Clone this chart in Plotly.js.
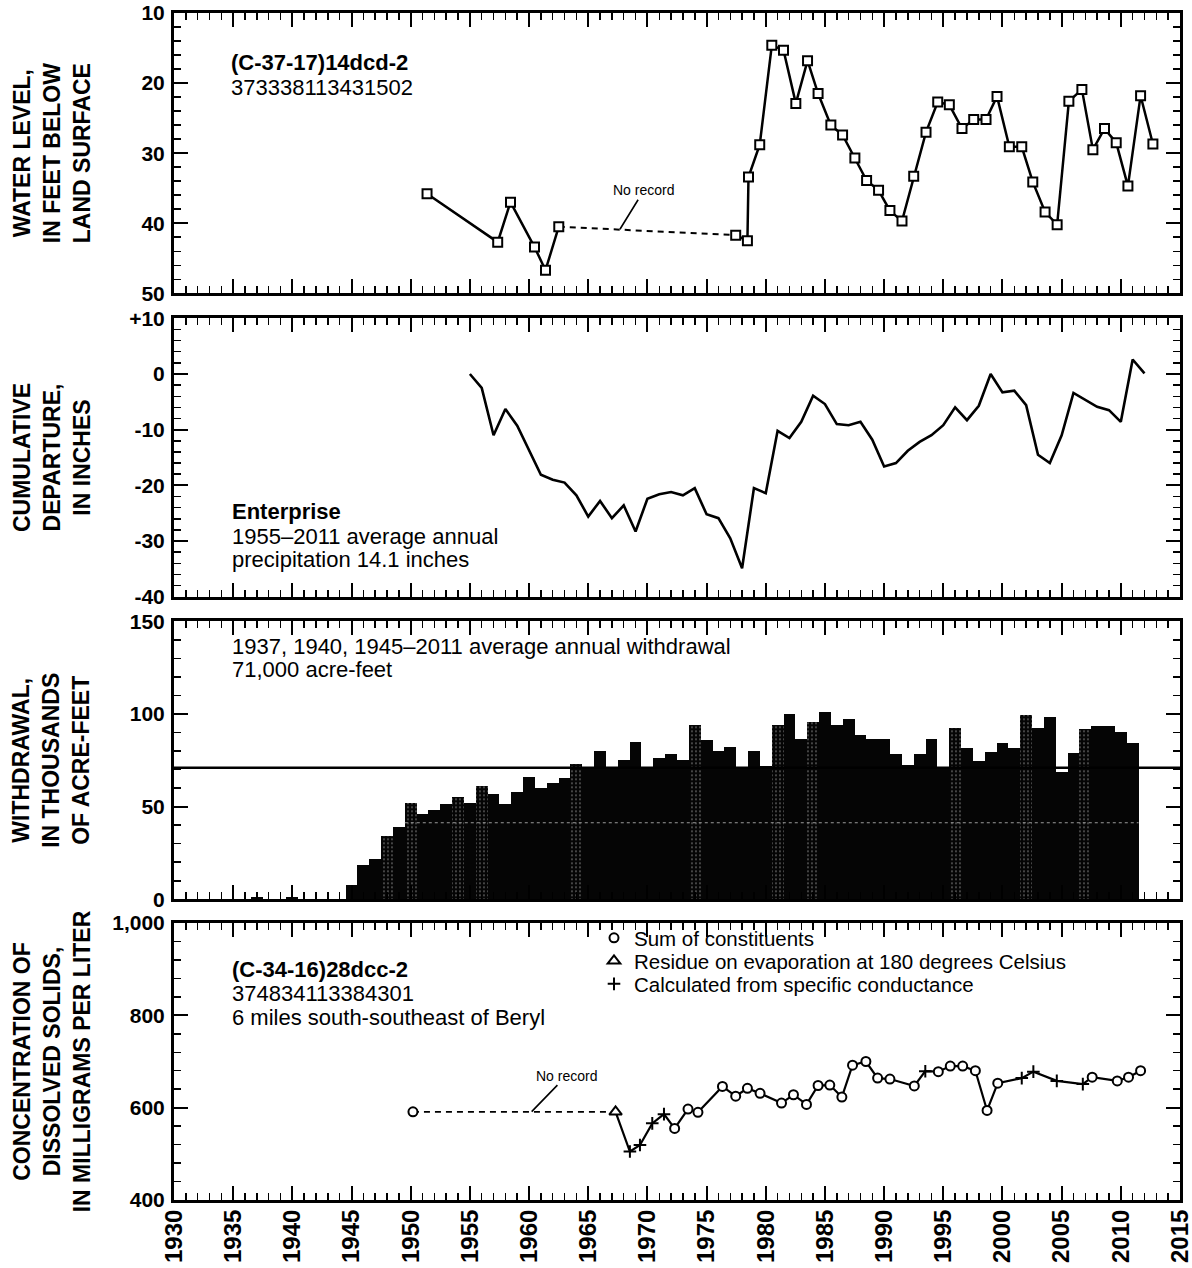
<!DOCTYPE html>
<html>
<head>
<meta charset="utf-8">
<script src="https://cdn.plot.ly/plotly-3.0.1.min.js"></script>
<style>
html,body{margin:0;padding:0;background:#fff;}
#chart{width:1192px;height:1268px;}
</style>
</head>
<body>
<div id="chart"></div>
<script>
// ---------- Panel 1: water level (feet below land surface) ----------
const wlYears = [1951.38, 1957.35, 1958.43, 1960.46, 1961.39, 1962.51, 1977.46, 1978.45, 1978.54, 1979.49,
  1980.51, 1981.50, 1982.54, 1983.53, 1984.42, 1985.50, 1986.49, 1987.53, 1988.52, 1989.53,
  1990.49, 1991.51, 1992.50, 1993.54, 1994.53, 1995.51, 1996.58, 1997.57, 1998.61, 1999.54,
  2000.58, 2001.63, 2002.56, 2003.60, 2004.62, 2005.61, 2006.71, 2007.64, 2008.62, 2009.61,
  2010.60, 2011.67, 2012.71];
const wlDepth = [35.8, 42.7, 37.0, 43.4, 46.7, 40.5, 41.7, 42.5, 33.4, 28.8,
  14.6, 15.3, 22.9, 16.8, 21.5, 26.0, 27.4, 30.7, 33.9, 35.3,
  38.2, 39.7, 33.3, 27.0, 22.7, 23.1, 26.5, 25.2, 25.2, 21.9,
  29.1, 29.1, 34.1, 38.4, 40.2, 22.6, 20.9, 29.5, 26.5, 28.5,
  34.7, 21.8, 28.7];
const wlTickVals = [10, 20, 30, 40, 50];
const wlTickText = ['10', '20', '30', '40', '50'];

// ---------- Panel 2: cumulative departure from average precipitation ----------
const cdYears = [1955, 1956, 1957, 1958, 1959, 1960, 1961, 1962, 1963, 1964,
  1965, 1966, 1967, 1968, 1969, 1970, 1971, 1972, 1973, 1974,
  1975, 1976, 1977, 1978, 1979, 1980, 1981, 1982, 1983, 1984,
  1985, 1986, 1987, 1988, 1989, 1990, 1991, 1992, 1993, 1994,
  1995, 1996, 1997, 1998, 1999, 2000, 2001, 2002, 2003, 2004,
  2005, 2006, 2007, 2008, 2009, 2010, 2011, 2012];
const cdValues = [0, -2.5, -11.0, -6.3, -9.3, -13.6, -18.1, -19.0, -19.5, -21.8,
  -25.6, -22.8, -25.9, -23.6, -28.3, -22.4, -21.6, -21.2, -21.8, -20.5,
  -25.2, -25.9, -29.5, -34.9, -20.5, -21.4, -10.2, -11.5, -8.6, -3.9,
  -5.4, -9.0, -9.2, -8.6, -11.8, -16.6, -16.0, -13.8, -12.2, -11.0,
  -9.2, -6.0, -8.3, -5.7, 0.0, -3.3, -3.0, -5.6, -14.5, -16.0,
  -11.0, -3.4, -4.7, -5.9, -6.5, -8.6, 2.6, 0.1];
const cdTickVals = [10, 0, -10, -20, -30, -40];
const cdTickText = ['+10', '0', '-10', '-20', '-30', '-40'];

// ---------- Panel 3: withdrawal (thousands of acre-feet) ----------
const wdYears = [1937, 1940, 1945, 1946, 1947, 1948, 1949, 1950, 1951, 1952, 1953, 1954,
  1955, 1956, 1957, 1958, 1959, 1960, 1961, 1962, 1963, 1964,
  1965, 1966, 1967, 1968, 1969, 1970, 1971, 1972, 1973, 1974,
  1975, 1976, 1977, 1978, 1979, 1980, 1981, 1982, 1983, 1984,
  1985, 1986, 1987, 1988, 1989, 1990, 1991, 1992, 1993, 1994,
  1995, 1996, 1997, 1998, 1999, 2000, 2001, 2002, 2003, 2004,
  2005, 2006, 2007, 2008, 2009, 2010, 2011];
const wdValues = [1.5, 1.5, 7.6, 18.3, 22.0, 34.0, 39.0, 52.0, 46.2, 48.0, 51.3, 55.2,
  52.0, 61.1, 57.0, 51.3, 57.9, 66.0, 60.1, 62.8, 65.3, 73.0,
  71.5, 80.2, 70.5, 75.2, 85.1, 71.0, 76.1, 78.2, 75.2, 94.1,
  86.0, 80.2, 82.0, 71.0, 80.2, 71.8, 93.9, 99.8, 86.7, 95.7,
  100.8, 93.9, 97.5, 88.9, 86.3, 86.3, 78.6, 72.3, 78.6, 86.3,
  71.5, 92.6, 81.7, 74.6, 79.5, 84.6, 81.7, 99.3, 92.6, 98.4,
  68.7, 79.2, 92.1, 93.4, 93.4, 90.3, 84.3];
const wdAverage = 71;
const wdTickVals = [0, 50, 100, 150];
const wdTickText = ['0', '50', '100', '150'];
// bars that show the lighter halftone screen in the original
const wdScreenedYears = [1948, 1950, 1954, 1956, 1964, 1974, 1981, 1984, 1996, 2002, 2007];

// ---------- Panel 4: dissolved solids (mg/L) ----------
const dsYears = [1950.19, 1967.31, 1968.52, 1969.37, 1970.41, 1971.40, 1972.30, 1973.43, 1974.27, 1976.34,
  1977.46, 1978.45, 1979.52, 1981.33, 1982.34, 1983.44, 1984.42, 1985.41, 1986.43, 1987.33,
  1988.46, 1989.45, 1990.49, 1992.55, 1993.48, 1994.58, 1995.59, 1996.64, 1997.71, 1998.70,
  1999.60, 2001.63, 2002.61, 2004.59, 2006.79, 2007.58, 2009.70, 2010.65, 2011.67];
const dsValues = [591, 591, 505, 519, 566, 586, 555, 597, 590, 646,
  625, 642, 631, 610, 628, 607, 648, 649, 623, 692,
  700, 664, 662, 647, 679, 678, 690, 690, 680, 594,
  653, 664, 678, 658, 651, 666, 658, 666, 680];
const dsMethod = ['sum', 'residue', 'cond', 'cond', 'cond', 'cond', 'sum', 'sum', 'sum', 'sum',
  'sum', 'sum', 'sum', 'sum', 'sum', 'sum', 'sum', 'sum', 'sum', 'sum',
  'sum', 'sum', 'sum', 'sum', 'cond', 'sum', 'sum', 'sum', 'sum', 'sum',
  'sum', 'cond', 'cond', 'cond', 'cond', 'sum', 'sum', 'sum', 'sum'];
const dsMethodNames = {
  sum: 'Sum of constituents',
  residue: 'Residue on evaporation at 180 degrees Celsius',
  cond: 'Calculated from specific conductance'
};
const dsTickVals = [400, 600, 800, 1000];
const dsTickText = ['400', '600', '800', '1,000'];

// ---------- shared x axis ticks ----------
const xTickVals = [1930, 1935, 1940, 1945, 1950, 1955, 1960, 1965, 1970, 1975, 1980, 1985, 1990, 1995, 2000, 2005, 2010, 2015];
const xTickText = ['1930', '1935', '1940', '1945', '1950', '1955', '1960', '1965', '1970', '1975', '1980', '1985', '1990', '1995', '2000', '2005', '2010', '2015'];

// ---------- helpers ----------
const FONT = 'Liberation Sans, Arial, Helvetica, sans-serif';
const GAP_YEARS = 10; // longer gaps = "No record"

function splitSeries(xs, ys) {
  const solidX = [], solidY = [], gapX = [], gapY = [];
  for (let i = 0; i < xs.length; i++) {
    if (i > 0 && xs[i] - xs[i - 1] > GAP_YEARS) {
      solidX.push(null); solidY.push(null);
      gapX.push(xs[i - 1], xs[i], null); gapY.push(ys[i - 1], ys[i], null);
    }
    solidX.push(xs[i]); solidY.push(ys[i]);
  }
  return {solidX, solidY, gapX, gapY};
}

const wl = splitSeries(wlYears, wlDepth);
const ds = splitSeries(dsYears, dsValues);

const traces = [];
// Panel 1
traces.push({x: wl.gapX, y: wl.gapY, xaxis: 'x', yaxis: 'y', mode: 'lines', showlegend: false,
  line: {color: '#000', width: 2, dash: '6px,5px'}, hoverinfo: 'skip'});
traces.push({x: wl.solidX, y: wl.solidY, xaxis: 'x', yaxis: 'y', mode: 'lines+markers', showlegend: false,
  connectgaps: false, line: {color: '#000', width: 2.5},
  marker: {symbol: 'square', size: 9, color: '#fff', line: {color: '#000', width: 2}}});
// Panel 2
traces.push({x: cdYears, y: cdValues, xaxis: 'x2', yaxis: 'y2', mode: 'lines', showlegend: false,
  line: {color: '#000', width: 2.6}});
// Panel 3
traces.push({x: wdYears, y: wdValues, xaxis: 'x3', yaxis: 'y3', type: 'bar', width: 1, showlegend: false,
  marker: {color: '#050505', line: {width: 0},
    pattern: {shape: wdYears.map(y => wdScreenedYears.includes(y) ? '.' : ''),
      fgcolor: '#9a9a9a', bgcolor: '#050505', size: 4, solidity: 0.12, fillmode: 'replace'}}});
traces.push({x: [1930, 2015], y: [wdAverage, wdAverage], xaxis: 'x3', yaxis: 'y3', mode: 'lines',
  showlegend: false, line: {color: '#000', width: 2.5}});
// Panel 4
traces.push({x: ds.gapX, y: ds.gapY, xaxis: 'x4', yaxis: 'y4', mode: 'lines', showlegend: false,
  line: {color: '#000', width: 1.8, dash: '6px,5px'}, hoverinfo: 'skip'});
traces.push({x: ds.solidX, y: ds.solidY, xaxis: 'x4', yaxis: 'y4', mode: 'lines', showlegend: false,
  connectgaps: false, line: {color: '#000', width: 2.2}});
const methodStyle = {
  sum: {symbol: 'circle', size: 9, color: '#fff', line: {color: '#000', width: 2}},
  residue: {symbol: 'triangle-up', size: 11, color: '#fff', line: {color: '#000', width: 2}},
  cond: {symbol: 'cross-thin', size: 9, color: '#000', line: {color: '#000', width: 2}}
};
const legendOf = {sum: 'legend', residue: 'legend2', cond: 'legend3'};
['sum', 'residue', 'cond'].forEach(m => {
  const xs = [], ys = [];
  dsMethod.forEach((mm, i) => { if (mm === m) { xs.push(dsYears[i]); ys.push(dsValues[i]); } });
  traces.push({x: xs, y: ys, xaxis: 'x4', yaxis: 'y4', mode: 'markers', name: dsMethodNames[m],
    showlegend: true, legend: legendOf[m], marker: methodStyle[m]});
});

// ---------- layout ----------
const L = 174, R = 1180, T = 13, B = 1200, W = 1192, H = 1268;
const PW = R - L, PH = B - T;
const py = v => (B - v) / PH;       // pixel y -> paper y
const px = v => (v - L) / PW;       // pixel x -> paper x

const tickFont = {family: FONT, size: 21, color: '#000', weight: 'bold'};
const titleFont = {family: FONT, size: 23, color: '#000', weight: 'bold'};

function baseAxis() {
  return {showline: true, linewidth: 3, linecolor: '#000', mirror: 'ticks', ticks: 'inside',
    ticklen: 14, tickwidth: 2, tickcolor: '#000', showgrid: false, zeroline: false, fixedrange: true};
}
function xAxis(anchor, showLabels) {
  return Object.assign(baseAxis(), {anchor: anchor, domain: [0, 1], range: [1930, 2015],
    tickmode: 'array', tickvals: xTickVals, ticktext: xTickText, showticklabels: showLabels,
    tickangle: -90, tickfont: {family: FONT, size: 24, color: '#000', weight: 'bold'},
    ticklabeloverflow: 'allow', ticklabelstandoff: -3,
    minor: {tickmode: 'linear', tick0: 1930, dtick: 1, ticks: 'inside', ticklen: 7, tickwidth: 1.5, tickcolor: '#000'}});
}
function yAxis(anchor, domain, range, vals, text, minorDtick, minorTick0, title, standoff) {
  return Object.assign(baseAxis(), {anchor: anchor, domain: domain, range: range,
    tickmode: 'array', tickvals: vals, ticktext: text, tickfont: tickFont, ticklabelstandoff: 2,
    ticklabeloverflow: 'allow',
    minor: {tickmode: 'linear', tick0: minorTick0, dtick: minorDtick, ticks: 'inside', ticklen: 7, tickwidth: 1.5, tickcolor: '#000'},
    title: {text: title, font: titleFont, standoff: standoff}});
}

const ann = (x, y, text, opts) => Object.assign({xref: 'paper', yref: 'paper', x: px(x), y: py(y), text: text,
  showarrow: false, xanchor: 'left', yanchor: 'middle', align: 'left',
  font: {family: FONT, size: 22, color: '#000'}}, opts || {});

const annotations = [
  ann(229, 62, '<b>(C-37-17)14dcd-2</b>'),
  ann(229, 87, '373338113431502'),
  ann(230, 511, '<b>Enterprise</b>'),
  ann(230, 536, '1955–2011 average annual'),
  ann(230, 559, 'precipitation 14.1 inches'),
  ann(230, 646, '1937, 1940, 1945–2011 average annual withdrawal'),
  ann(230, 669, '71,000 acre-feet'),
  ann(230, 970, '<b>(C-34-16)28dcc-2</b>'),
  ann(230, 994, '374834113384301'),
  ann(230, 1018, '6 miles south-southeast of Beryl'),
  {xref: 'x', yref: 'y', x: 1967.68, y: 40.86, text: 'No record', showarrow: true, arrowhead: 0,
    arrowwidth: 1.6, arrowcolor: '#000', ax: 24, ay: -39, standoff: 0,
    font: {family: FONT, size: 14, color: '#000'}},
  {xref: 'x4', yref: 'y4', x: 1960.22, y: 591.3, text: 'No record', showarrow: true, arrowhead: 0,
    arrowwidth: 1.6, arrowcolor: '#000', ax: 35, ay: -36, standoff: 0,
    font: {family: FONT, size: 14, color: '#000'}}
];

const legendBase = y => ({x: px(594), y: py(y), xanchor: 'left', yanchor: 'middle', bgcolor: 'rgba(0,0,0,0)',
  borderwidth: 0, font: {family: FONT, size: 20.5, color: '#000'}, itemwidth: 30, tracegroupgap: 0});

const layout = {
  width: W, height: H,
  margin: {l: L, r: W - R, t: T, b: H - B, pad: 0},
  paper_bgcolor: '#fff', plot_bgcolor: '#fff',
  showlegend: true,
  legend: legendBase(938), legend2: legendBase(961), legend3: legendBase(984),
  font: {family: FONT, color: '#000'},
  xaxis: xAxis('y', false),
  xaxis2: xAxis('y2', false),
  xaxis3: xAxis('y3', false),
  xaxis4: xAxis('y4', true),
  yaxis: yAxis('x', [py(293.3), 1], [50, 10], wlTickVals, wlTickText, 2, 10,
    'WATER LEVEL,<br>IN FEET BELOW<br>LAND SURFACE', 45),
  yaxis2: yAxis('x2', [py(596.7), py(318.3)], [-40, 10], cdTickVals, cdTickText, 2, 0,
    'CUMULATIVE<br>DEPARTURE,<br>IN INCHES', 33),
  yaxis3: yAxis('x3', [py(899.3), py(621.3)], [0, 150], wdTickVals, wdTickText, 10, 0,
    'WITHDRAWAL,<br>IN THOUSANDS<br>OF ACRE-FEET', 34),
  yaxis4: yAxis('x4', [0, py(923)], [400, 1000], dsTickVals, dsTickText, 40, 400,
    'CONCENTRATION OF<br>DISSOLVED SOLIDS,<br>IN MILLIGRAMS PER LITER', 16),
  bargap: 0,
  annotations: annotations,
  shapes: [
    {type: 'line', xref: 'x3', yref: 'y3', x0: 1949.5, x1: 2011.5, y0: 41.3, y1: 41.3,
      line: {color: '#9a9a9a', width: 1, dash: 'dot'}, layer: 'above'}
  ]
};

Plotly.newPlot('chart', traces, layout, {displayModeBar: false, staticPlot: true});
</script>
</body>
</html>
